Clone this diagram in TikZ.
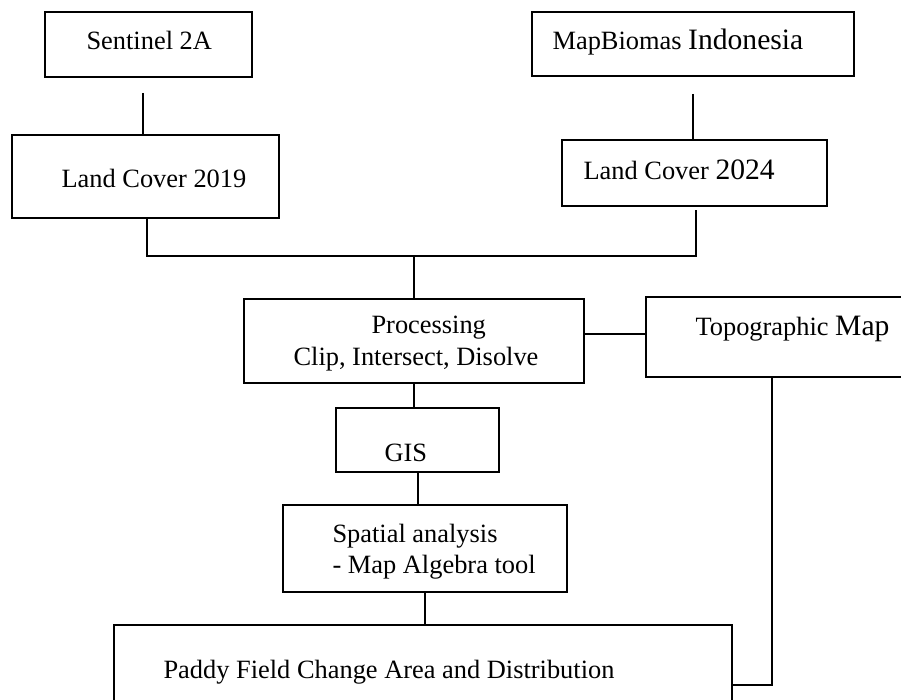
\documentclass[tikz,border=0pt]{standalone}
\usepackage{fontspec}
\setmainfont{Liberation Serif}
\newcommand{\lgtxt}[1]{{\fontsize{29.6}{34}\selectfont #1}}
\begin{document}
\begin{tikzpicture}[x=1pt,y=-1pt,
  line width=1.1pt,
  box/.style={draw, rectangle, inner sep=0pt, line width=1.1pt},
  txt/.style={anchor=base west, inner sep=0pt, font=\fontsize{26.4}{32}\selectfont},
  conn/.style={line width=1.1pt},
  thickconn/.style={line width=1.8pt}]
\useasboundingbox (0,0) rectangle (901,700);
\clip (0,0) rectangle (901,700);
\fill[white] (0,0) rectangle (901,700);

% boxes
\node[box, minimum width=207pt, minimum height=65pt] (sent) at (148.5,44.5) {};
\node[box, minimum width=267pt, minimum height=83pt] (lc19) at (145.5,176.5) {};
\node[box, minimum width=322pt, minimum height=64pt] (mapb) at (693,44) {};
\node[box, minimum width=265pt, minimum height=66pt] (lc24) at (694.5,173) {};
\node[box, minimum width=340pt, minimum height=84pt] (proc) at (414,341) {};
\node[box, minimum width=264pt, minimum height=80pt] (topo) at (778,337) {};
\node[box, minimum width=163pt, minimum height=64pt] (gis) at (417.5,440) {};
\node[box, minimum width=284pt, minimum height=87pt] (spat) at (425,548.5) {};
\node[box, minimum width=618pt, minimum height=90pt] (paddy) at (423,670) {};

% texts
\node[txt] (tsent) at (86,50) {Sentinel 2A};
\node[txt] (tlc19) at (61,188) {Land Cover 2019};
\node[txt] (tmapb) at (552,50) {MapBiomas \lgtxt{Indonesia}};
\node[txt] (tlc24) at (583,180) {Land Cover \lgtxt{2024}};
\node[txt] (tproc1) at (371,333) {Processing};
\node[txt] (tproc2) at (293,365) {Clip, Intersect, Disolve};
\node[txt] (ttopo) at (695,335) {Topographic \lgtxt{Map}};
\node[txt] (tgis) at (384,461) {GIS};
\node[txt] (tspat1) at (332,542) {Spatial analysis};
\node[txt] (tspat2) at (332,573) {- Map Algebra tool};
\node[txt] (tpaddy) at (163,678) {Paddy Field Change Area and Distribution};

% connector points
\coordinate (s1) at (143,93);
\coordinate (m1) at (693,94);
\coordinate (j1) at (147,256);
\coordinate (j2) at (696,256);
\coordinate (j2top) at (696,210);
\coordinate (jm) at (414,256);
\coordinate (g1) at (418,472);
\coordinate (p1) at (425,592);
\coordinate (t1) at (772,685);

% connectors
\draw[conn] (s1) -- (s1 |- lc19.north);
\draw[conn] (m1) -- (m1 |- lc24.north);
\draw[conn] (j1 |- lc19.south) -- (j1) -- (j2) -- (j2top);
\draw[conn] (jm) -- (jm |- proc.north);
\draw[thickconn] (proc.east |- 0,334) -- (topo.west |- 0,334);
\draw[conn] (proc.south -| jm) -- (gis.north -| jm);
\draw[conn] (g1) -- (g1 |- spat.north);
\draw[conn] (p1) -- (p1 |- paddy.north);
\draw[conn] (t1 |- topo.south) -- (t1) -- (t1 -| paddy.east);
\end{tikzpicture}
\end{document}
